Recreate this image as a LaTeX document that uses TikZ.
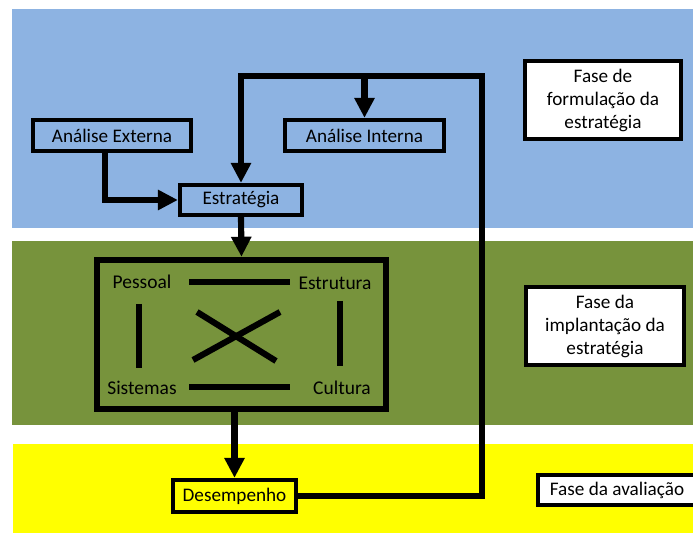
\documentclass[tikz,border=0pt]{standalone}
\usepackage{fontspec}
\setmainfont{Carlito}
\usetikzlibrary{arrows.meta}
\definecolor{bandblue}{RGB}{141,179,226}
\definecolor{bandgreen}{RGB}{119,147,60}
\definecolor{bandyellow}{RGB}{255,255,0}
\tikzset{
  box/.style={draw=black, line width=3.2pt, inner sep=0pt, align=center,
    font=\fontsize{14.4}{17.25}\selectfont},
  label/.style={inner sep=0pt, font=\fontsize{14.6}{17}\selectfont},
  link/.style={line width=4.6pt},
  flow/.style={link, -{Triangle[length=15pt,width=14.5pt]}},
}
\begin{document}
\begin{tikzpicture}[x=0.75pt,y=-0.75pt]
  \useasboundingbox (0,0) rectangle (693,534);
  % phase bands
  \fill[bandblue]   (12,9)   rectangle (693,228);
  \fill[bandgreen]  (12,241) rectangle (693,425);
  \fill[bandyellow] (13,444) rectangle (693,533);

  % formulation
  \node[box, fill=bandblue, minimum width=118.5pt, minimum height=23.25pt] (ext) at (112,135.5) {Análise Externa};
  \node[box, fill=bandblue, minimum width=119.25pt, minimum height=23.25pt] (int) at (364.5,135.5) {Análise Interna};
  \node[box, fill=bandblue, minimum width=91.5pt, minimum height=22.5pt] (estr) at (241,200) {Estratégia};

  % implementation (7-S style square)
  \node[box, line width=4.6pt, minimum width=217pt, minimum height=112pt] (impl) at (241.5,334.5) {};
  \node[label] (pes) at (142,282) {Pessoal};
  \node[label] (estru) at (335,283) {Estrutura};
  \node[label] (sis) at (142,388) {Sistemas};
  \node[label] (cul) at (342,388) {Cultura};
  \draw[link] (189,282) -- (290,282);
  \draw[link] (189,387) -- (290,387);
  \draw[link] (139,304) -- (139,368);
  \draw[link] (340,301) -- (340,366);
  \draw[link] (197,312) -- (276,361);
  \draw[link] (280,312) -- (193,360);

  % evaluation
  \node[box, fill=bandyellow, minimum width=92.25pt, minimum height=24pt] (des) at (234.5,496) {Desempenho};

  % phase captions
  \node[box, fill=white, minimum width=117pt, minimum height=58.5pt] (f1) at (603,100) {Fase de\\formulação da\\estratégia};
  \node[box, fill=white, minimum width=118.5pt, minimum height=58.5pt] (f2) at (605,326) {Fase da\\implantação da\\estratégia};
  \node[box, fill=white, minimum width=118.5pt, minimum height=22.5pt] (f3) at (617,490) {Fase da avaliação};

  % connectors
  \coordinate (loopR) at (482,76);
  \draw[flow] (ext.south -| 105,0) |- (estr.west);
  \draw[flow] (des.east) -| (loopR) -| (estr.north);
  \draw[flow] (int.north |- loopR) -- (int.north);
  \draw[flow] (estr.south) -- (impl.north);
  \draw[flow] (des.north |- impl.south) -- (des.north);
\end{tikzpicture}
\end{document}
